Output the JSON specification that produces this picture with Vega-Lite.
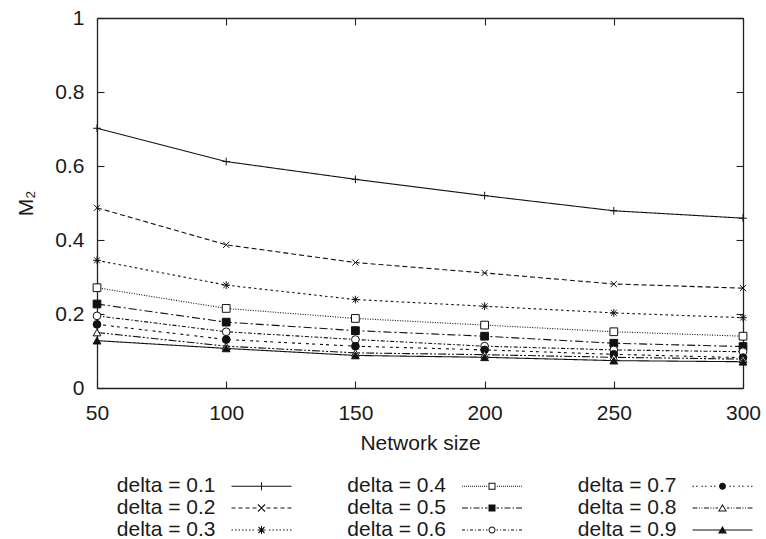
{
  "$schema": "https://vega.github.io/schema/vega-lite/v6.json",
  "width": 646,
  "height": 370,
  "autosize": {"type": "none"},
  "padding": {"left": 97, "top": 18, "right": 23, "bottom": 151},
  "background": "white",
  "config": {"view": {"stroke": null}, "font": "Liberation Sans", "axis": {"grid": false}},
  "data": {"values": [
    {"delta": "0.1", "n": 50, "m2": 0.702}, {"delta": "0.1", "n": 100, "m2": 0.612}, {"delta": "0.1", "n": 150, "m2": 0.564}, {"delta": "0.1", "n": 200, "m2": 0.52}, {"delta": "0.1", "n": 250, "m2": 0.479}, {"delta": "0.1", "n": 300, "m2": 0.459},
    {"delta": "0.2", "n": 50, "m2": 0.487}, {"delta": "0.2", "n": 100, "m2": 0.387}, {"delta": "0.2", "n": 150, "m2": 0.339}, {"delta": "0.2", "n": 200, "m2": 0.311}, {"delta": "0.2", "n": 250, "m2": 0.281}, {"delta": "0.2", "n": 300, "m2": 0.27},
    {"delta": "0.3", "n": 50, "m2": 0.345}, {"delta": "0.3", "n": 100, "m2": 0.278}, {"delta": "0.3", "n": 150, "m2": 0.239}, {"delta": "0.3", "n": 200, "m2": 0.221}, {"delta": "0.3", "n": 250, "m2": 0.203}, {"delta": "0.3", "n": 300, "m2": 0.19},
    {"delta": "0.4", "n": 50, "m2": 0.271}, {"delta": "0.4", "n": 100, "m2": 0.215}, {"delta": "0.4", "n": 150, "m2": 0.188}, {"delta": "0.4", "n": 200, "m2": 0.17}, {"delta": "0.4", "n": 250, "m2": 0.152}, {"delta": "0.4", "n": 300, "m2": 0.14},
    {"delta": "0.5", "n": 50, "m2": 0.227}, {"delta": "0.5", "n": 100, "m2": 0.178}, {"delta": "0.5", "n": 150, "m2": 0.155}, {"delta": "0.5", "n": 200, "m2": 0.14}, {"delta": "0.5", "n": 250, "m2": 0.121}, {"delta": "0.5", "n": 300, "m2": 0.112},
    {"delta": "0.6", "n": 50, "m2": 0.195}, {"delta": "0.6", "n": 100, "m2": 0.152}, {"delta": "0.6", "n": 150, "m2": 0.131}, {"delta": "0.6", "n": 200, "m2": 0.113}, {"delta": "0.6", "n": 250, "m2": 0.103}, {"delta": "0.6", "n": 300, "m2": 0.098},
    {"delta": "0.7", "n": 50, "m2": 0.172}, {"delta": "0.7", "n": 100, "m2": 0.131}, {"delta": "0.7", "n": 150, "m2": 0.113}, {"delta": "0.7", "n": 200, "m2": 0.103}, {"delta": "0.7", "n": 250, "m2": 0.091}, {"delta": "0.7", "n": 300, "m2": 0.082},
    {"delta": "0.8", "n": 50, "m2": 0.15}, {"delta": "0.8", "n": 100, "m2": 0.113}, {"delta": "0.8", "n": 150, "m2": 0.095}, {"delta": "0.8", "n": 200, "m2": 0.09}, {"delta": "0.8", "n": 250, "m2": 0.083}, {"delta": "0.8", "n": 300, "m2": 0.078},
    {"delta": "0.9", "n": 50, "m2": 0.128}, {"delta": "0.9", "n": 100, "m2": 0.107}, {"delta": "0.9", "n": 150, "m2": 0.088}, {"delta": "0.9", "n": 200, "m2": 0.083}, {"delta": "0.9", "n": 250, "m2": 0.074}, {"delta": "0.9", "n": 300, "m2": 0.071}
  ]},
  "layer": [
    {
      "mark": {"type": "line", "strokeWidth": 1.1, "color": "#111"},
      "encoding": {
        "x": {"field": "n", "type": "quantitative", "scale": {"domain": [50, 300], "nice": false},
          "axis": {"orient": "bottom", "values": [50, 100, 150, 200, 250, 300], "tickSize": -7, "labelPadding": 21.3, "labelFontSize": 21, "labelFont": "Liberation Sans", "labelColor": "#1a1a1a", "labelFlush": false, "labelOverlap": false, "title": "Network size", "titleFont": "Liberation Sans", "titleFontSize": 21, "titleFontWeight": "normal", "titlePadding": 9, "titleColor": "#1a1a1a", "domainColor": "#222", "tickColor": "#222", "domainWidth": 1.3, "tickWidth": 1.1}},
        "y": {"field": "m2", "type": "quantitative", "scale": {"domain": [0, 1], "nice": false},
          "axis": {"orient": "left", "values": [0, 0.2, 0.4, 0.6, 0.8, 1], "format": "~g", "tickSize": -7, "labelPadding": 20, "labelFontSize": 21, "labelFont": "Liberation Sans", "labelColor": "#1a1a1a", "labelOverlap": false, "title": "M₂", "titleFont": "Liberation Sans", "titleFontSize": 21, "titleFontWeight": "normal", "titlePadding": 18, "titleColor": "#1a1a1a", "domainColor": "#222", "tickColor": "#222", "domainWidth": 1.3, "tickWidth": 1.1}},
        "strokeDash": {"field": "delta", "type": "nominal",
          "scale": {"domain": ["0.1", "0.2", "0.3", "0.4", "0.5", "0.6", "0.7", "0.8", "0.9"],
            "range": [[1, 0], [5, 3], [2.5, 3], [1, 1.5], [8, 3, 2, 3], [4, 2, 1.5, 2], [3, 3, 3, 5], [8, 2, 2, 2, 2, 2], [1, 0]]},
          "legend": null}
      }
    },
    {
      "mark": {"type": "point", "stroke": "#111", "strokeWidth": 1, "size": 60, "opacity": 1},
      "encoding": {
        "x": {"field": "n", "type": "quantitative", "axis": {"orient": "top", "values": [50, 100, 150, 200, 250, 300], "tickSize": -7, "labels": false, "title": null, "domainColor": "#222", "tickColor": "#222", "domainWidth": 1.3, "tickWidth": 1.1}},
        "y": {"field": "m2", "type": "quantitative", "axis": {"orient": "right", "values": [0, 0.2, 0.4, 0.6, 0.8, 1], "tickSize": -7, "labels": false, "title": null, "domainColor": "#222", "tickColor": "#222", "domainWidth": 1.3, "tickWidth": 1.1}},
        "shape": {"field": "delta", "type": "nominal",
          "scale": {"domain": ["0.1", "0.2", "0.3", "0.4", "0.5", "0.6", "0.7", "0.8", "0.9"],
            "range": ["M-1,0H1M0,-1V1", "M-0.8,-0.8L0.8,0.8M-0.8,0.8L0.8,-0.8", "M-1,0H1M0,-1V1M-0.75,-0.75L0.75,0.75M-0.75,0.75L0.75,-0.75", "square", "square", "circle", "circle", "triangle-up", "triangle-up"]},
          "legend": null},
        "fill": {"field": "delta", "type": "nominal",
          "scale": {"domain": ["0.1", "0.2", "0.3", "0.4", "0.5", "0.6", "0.7", "0.8", "0.9"],
            "range": ["white", "white", "white", "white", "#111", "white", "#111", "white", "#111"]},
          "legend": null}
      }
    },
    {
      "mark": {"type": "point", "filled": true, "color": "#111", "opacity": 0, "size": 4},
      "encoding": {
        "x": {"field": "n", "type": "quantitative", "axis": null},
        "y": {"field": "m2", "type": "quantitative", "axis": null},
        "shape": {"field": "delta", "type": "nominal",
          "scale": {"domain": ["0.1", "0.2", "0.3", "0.4", "0.5", "0.6", "0.7", "0.8", "0.9"],
            "range": [
              "M-30,-0.6H30V0.6H-30Z M-0.5,-4H0.5V4H-0.5Z",
              "M-30,-0.5H-26V0.5H-30Z M-23,-0.5H-19V0.5H-23Z M-16,-0.5H-12V0.5H-16Z M-9,-0.5H-5V0.5H-9Z M5,-0.5H9V0.5H5Z M12,-0.5H16V0.5H12Z M19,-0.5H23V0.5H19Z M26,-0.5H30V0.5H26Z M-3.12,-3.88L3.88,3.12L3.12,3.88L-3.88,-3.12Z M-3.88,3.12L3.12,-3.88L3.88,-3.12L-3.12,3.88Z",
              "M-30,-0.5H-28.5V0.5H-30Z M-26.5,-0.5H-25V0.5H-26.5Z M-23,-0.5H-21.5V0.5H-23Z M-19.5,-0.5H-18V0.5H-19.5Z M-16,-0.5H-14.5V0.5H-16Z M-12.5,-0.5H-11V0.5H-12.5Z M-9,-0.5H-7.5V0.5H-9Z M7.5,-0.5H9V0.5H7.5Z M11,-0.5H12.5V0.5H11Z M14.5,-0.5H16V0.5H14.5Z M18,-0.5H19.5V0.5H18Z M21.5,-0.5H23V0.5H21.5Z M25,-0.5H26.5V0.5H25Z M28.5,-0.5H30V0.5H28.5Z M-4,-0.5H4V0.5H-4Z M-0.5,-4H0.5V4H-0.5Z M-2.62,-3.38L3.38,2.62L2.62,3.38L-3.38,-2.62Z M-3.38,2.62L2.62,-3.38L3.38,-2.62L-2.62,3.38Z",
              "M-30,-0.5H-29V0.5H-30Z M-28,-0.5H-27V0.5H-28Z M-26,-0.5H-25V0.5H-26Z M-24,-0.5H-23V0.5H-24Z M-22,-0.5H-21V0.5H-22Z M-20,-0.5H-19V0.5H-20Z M-18,-0.5H-17V0.5H-18Z M-16,-0.5H-15V0.5H-16Z M-14,-0.5H-13V0.5H-14Z M-12,-0.5H-11V0.5H-12Z M-10,-0.5H-9V0.5H-10Z M-8,-0.5H-7V0.5H-8Z M-6,-0.5H-5V0.5H-6Z M5,-0.5H6V0.5H5Z M7,-0.5H8V0.5H7Z M9,-0.5H10V0.5H9Z M11,-0.5H12V0.5H11Z M13,-0.5H14V0.5H13Z M15,-0.5H16V0.5H15Z M17,-0.5H18V0.5H17Z M19,-0.5H20V0.5H19Z M21,-0.5H22V0.5H21Z M23,-0.5H24V0.5H23Z M25,-0.5H26V0.5H25Z M27,-0.5H28V0.5H27Z M29,-0.5H30V0.5H29Z M-3.5,-3.5H3.5V3.5H-3.5Z M-2.5,-2.5V2.5H2.5V-2.5Z",
              "M-30,-0.5H-24V0.5H-30Z M-22,-0.5H-20.5V0.5H-22Z M-18.5,-0.5H-12.5V0.5H-18.5Z M-10.5,-0.5H-9V0.5H-10.5Z M-7,-0.5H-4.5V0.5H-7Z M4.5,-0.5H7V0.5H4.5Z M9,-0.5H10.5V0.5H9Z M12.5,-0.5H18.5V0.5H12.5Z M20.5,-0.5H22V0.5H20.5Z M24,-0.5H30V0.5H24Z M-3.5,-3.5H3.5V3.5H-3.5Z",
              "M-30,-0.5H-27V0.5H-30Z M-25,-0.5H-24V0.5H-25Z M-22,-0.5H-19V0.5H-22Z M-17,-0.5H-16V0.5H-17Z M-14,-0.5H-11V0.5H-14Z M-9,-0.5H-8V0.5H-9Z M-6,-0.5H-4.5V0.5H-6Z M4.5,-0.5H6V0.5H4.5Z M8,-0.5H9V0.5H8Z M11,-0.5H14V0.5H11Z M16,-0.5H17V0.5H16Z M19,-0.5H22V0.5H19Z M24,-0.5H25V0.5H24Z M27,-0.5H30V0.5H27Z M-3.5,0A3.5,3.5 0 1,1 3.5,0A3.5,3.5 0 1,1 -3.5,0Z M-2.5,0A2.5,2.5 0 1,0 2.5,0A2.5,2.5 0 1,0 -2.5,0Z",
              "M-30,-0.5H-28.5V0.5H-30Z M-26.5,-0.5H-25V0.5H-26.5Z M-21,-0.5H-19.5V0.5H-21Z M-17.5,-0.5H-16V0.5H-17.5Z M-12,-0.5H-10.5V0.5H-12Z M-8.5,-0.5H-7V0.5H-8.5Z M7,-0.5H8.5V0.5H7Z M10.5,-0.5H12V0.5H10.5Z M16,-0.5H17.5V0.5H16Z M19.5,-0.5H21V0.5H19.5Z M25,-0.5H26.5V0.5H25Z M28.5,-0.5H30V0.5H28.5Z M-3.5,0A3.5,3.5 0 1,1 3.5,0A3.5,3.5 0 1,1 -3.5,0Z",
              "M-30,-0.5H-25V0.5H-30Z M-23.5,-0.5H-22.5V0.5H-23.5Z M-21,-0.5H-20V0.5H-21Z M-18.5,-0.5H-13.5V0.5H-18.5Z M-12,-0.5H-11V0.5H-12Z M-9.5,-0.5H-8.5V0.5H-9.5Z M-7,-0.5H-4.5V0.5H-7Z M4.5,-0.5H7V0.5H4.5Z M8.5,-0.5H9.5V0.5H8.5Z M11,-0.5H12V0.5H11Z M13.5,-0.5H18.5V0.5H13.5Z M20,-0.5H21V0.5H20Z M22.5,-0.5H23.5V0.5H22.5Z M25,-0.5H30V0.5H25Z M0,-4L4.5,3.5H-4.5Z M0,-2L-2.9,2.6H2.9Z",
              "M-30,-0.6H30V0.6H-30Z M0,-4L4.5,3.5H-4.5Z"
            ]},
          "legend": {"title": null, "orient": "none", "legendX": 154, "legendY": 457.5, "columns": 3, "columnPadding": 54.5, "rowPadding": 0, "padding": 0, "labelFontSize": 21, "labelFont": "Liberation Sans", "labelColor": "#1a1a1a", "labelAlign": "right", "labelOffset": -56.5, "symbolSize": 4, "symbolStrokeWidth": 0, "symbolFillColor": "#111", "symbolOpacity": 1, "labelExpr": "'delta = ' + datum.label", "labelLimit": 0}}
      }
    }
  ],
  "resolve": {"scale": {"shape": "independent"}, "axis": {"x": "independent", "y": "independent"}}
}
